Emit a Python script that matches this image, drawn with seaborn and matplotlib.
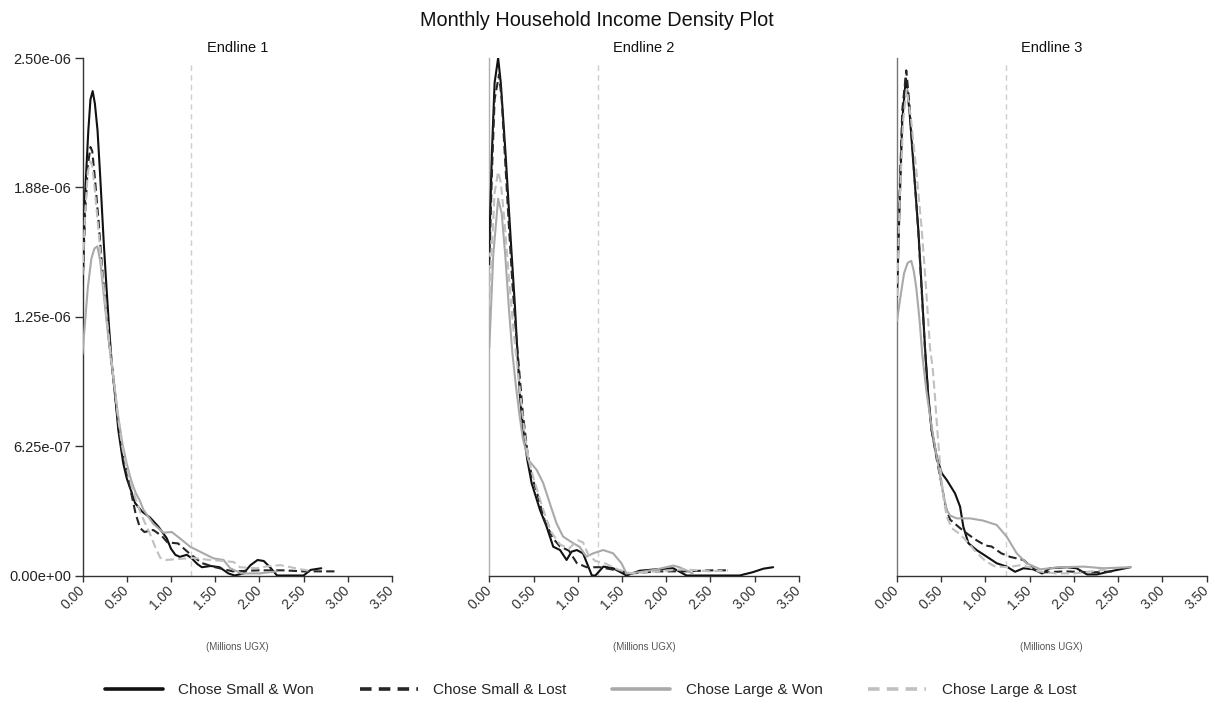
import numpy as np
import pandas as pd
import matplotlib
matplotlib.use("Agg")
import matplotlib.pyplot as plt
from matplotlib.lines import Line2D
import seaborn as sns

# ---- data: income in millions UGX, density in units of 1e-6 ----
DENSITY_UNIT = 1e-6
POVERTY_LINE = 1.23

groups = ["Chose Small & Won", "Chose Small & Lost", "Chose Large & Won", "Chose Large & Lost"]
endlines = ["Endline 1", "Endline 2", "Endline 3"]

# Endline 1
e1_small_won_x = [0.00, 0.01, 0.03, 0.066, 0.09, 0.115, 0.14, 0.17, 0.20, 0.24, 0.27, 0.30, 0.33, 0.35, 0.38, 0.405, 0.43, 0.46, 0.50, 0.557, 0.595, 0.67, 0.764, 0.858, 0.953, 1.00, 1.05, 1.10, 1.18, 1.235, 1.30, 1.35, 1.45, 1.55, 1.65, 1.72, 1.82, 1.90, 1.98, 2.05, 2.12, 2.20, 2.50, 2.58, 2.70]
e1_small_won_d = [1.42, 1.51, 1.85, 2.15, 2.30, 2.34, 2.28, 2.15, 1.93, 1.61, 1.40, 1.20, 1.03, 0.945, 0.82, 0.703, 0.63, 0.544, 0.47, 0.40, 0.35, 0.31, 0.28, 0.236, 0.18, 0.13, 0.10, 0.09, 0.10, 0.083, 0.055, 0.04, 0.046, 0.04, 0.01, 0.0, 0.01, 0.05, 0.075, 0.07, 0.04, 0.0, 0.0, 0.027, 0.035]

e1_small_lost_x = [0.00, 0.03, 0.06, 0.09, 0.11, 0.14, 0.18, 0.22, 0.26, 0.30, 0.35, 0.40, 0.45, 0.50, 0.55, 0.60, 0.65, 0.70, 0.80, 0.90, 0.96, 1.08, 1.20, 1.35, 1.50, 1.70, 2.00, 2.27, 2.50, 2.88]
e1_small_lost_d = [1.40, 1.75, 1.98, 2.07, 2.05, 1.92, 1.72, 1.50, 1.30, 1.13, 0.95, 0.75, 0.60, 0.50, 0.40, 0.30, 0.23, 0.21, 0.22, 0.19, 0.16, 0.155, 0.11, 0.06, 0.04, 0.02, 0.025, 0.025, 0.02, 0.02]

e1_large_won_x = [0.00, 0.03, 0.06, 0.10, 0.135, 0.168, 0.20, 0.232, 0.28, 0.32, 0.36, 0.40, 0.45, 0.50, 0.55, 0.60, 0.65, 0.69, 0.80, 0.915, 1.01, 1.10, 1.217, 1.33, 1.48, 1.595, 1.67, 1.80, 2.00, 2.20]
e1_large_won_d = [1.07, 1.23, 1.39, 1.53, 1.58, 1.59, 1.52, 1.39, 1.20, 1.05, 0.92, 0.78, 0.64, 0.54, 0.46, 0.40, 0.36, 0.317, 0.25, 0.207, 0.21, 0.18, 0.139, 0.115, 0.083, 0.075, 0.035, 0.01, 0.01, 0.02]

e1_large_lost_x = [0.00, 0.03, 0.06, 0.09, 0.11, 0.14, 0.18, 0.22, 0.26, 0.30, 0.35, 0.40, 0.45, 0.50, 0.55, 0.60, 0.65, 0.70, 0.76, 0.82, 0.88, 0.95, 1.10, 1.25, 1.44, 1.60, 1.71, 1.78, 1.97, 2.10, 2.24, 2.47, 2.60]
e1_large_lost_d = [1.45, 1.75, 1.95, 2.00, 1.98, 1.86, 1.67, 1.48, 1.30, 1.14, 0.96, 0.77, 0.62, 0.52, 0.44, 0.37, 0.31, 0.26, 0.205, 0.14, 0.085, 0.075, 0.08, 0.085, 0.075, 0.07, 0.065, 0.04, 0.035, 0.045, 0.05, 0.03, 0.02]

# Endline 2
e2_small_won_x = [0.00, 0.03, 0.06, 0.10, 0.13, 0.185, 0.22, 0.253, 0.29, 0.32, 0.347, 0.384, 0.43, 0.479, 0.573, 0.648, 0.723, 0.80, 0.874, 0.93, 0.99, 1.06, 1.12, 1.16, 1.20, 1.29, 1.40, 1.51, 1.55, 1.70, 1.89, 2.08, 2.23, 2.83, 2.98, 3.10, 3.21]
e2_small_won_d = [1.60, 2.05, 2.38, 2.50, 2.38, 2.03, 1.78, 1.55, 1.30, 1.06, 0.864, 0.703, 0.558, 0.446, 0.317, 0.236, 0.139, 0.123, 0.075, 0.115, 0.123, 0.107, 0.043, 0.0, 0.0, 0.043, 0.035, 0.01, 0.0, 0.023, 0.03, 0.035, 0.0, 0.0, 0.016, 0.033, 0.04]

e2_small_lost_x = [0.00, 0.03, 0.06, 0.11, 0.14, 0.18, 0.22, 0.26, 0.30, 0.34, 0.38, 0.43, 0.48, 0.54, 0.57, 0.63, 0.72, 0.80, 0.90, 0.99, 1.10, 1.25, 1.44, 1.60, 1.90, 2.20, 2.53, 2.69]
e2_small_lost_d = [1.50, 1.95, 2.30, 2.42, 2.30, 2.00, 1.70, 1.42, 1.18, 0.98, 0.78, 0.60, 0.48, 0.40, 0.35, 0.26, 0.18, 0.14, 0.12, 0.06, 0.04, 0.04, 0.025, 0.01, 0.02, 0.02, 0.025, 0.025]

e2_large_won_x = [0.00, 0.045, 0.10, 0.14, 0.18, 0.22, 0.26, 0.30, 0.34, 0.38, 0.442, 0.536, 0.61, 0.684, 0.76, 0.834, 0.949, 1.02, 1.098, 1.175, 1.288, 1.40, 1.495, 1.55, 1.70, 1.90, 2.08, 2.15, 2.30]
e2_large_won_d = [1.10, 1.55, 1.82, 1.75, 1.55, 1.30, 1.08, 0.92, 0.78, 0.66, 0.558, 0.51, 0.446, 0.349, 0.252, 0.188, 0.156, 0.139, 0.091, 0.107, 0.123, 0.107, 0.059, 0.01, 0.016, 0.03, 0.048, 0.04, 0.01]

e2_large_lost_x = [0.00, 0.03, 0.06, 0.10, 0.13, 0.17, 0.22, 0.27, 0.32, 0.36, 0.40, 0.45, 0.50, 0.55, 0.60, 0.65, 0.70, 0.80, 0.90, 1.00, 1.06, 1.12, 1.20, 1.30, 1.45, 1.60, 1.90, 2.20, 2.50, 2.70]
e2_large_lost_d = [1.30, 1.60, 1.85, 1.95, 1.90, 1.72, 1.45, 1.20, 1.00, 0.84, 0.68, 0.55, 0.47, 0.40, 0.33, 0.27, 0.21, 0.15, 0.13, 0.17, 0.16, 0.10, 0.07, 0.06, 0.03, 0.01, 0.02, 0.03, 0.02, 0.025]

# Endline 3
e3_small_won_x = [0.00, 0.03, 0.06, 0.10, 0.14, 0.185, 0.241, 0.28, 0.317, 0.354, 0.392, 0.449, 0.506, 0.562, 0.656, 0.713, 0.75, 0.807, 0.90, 1.015, 1.128, 1.24, 1.335, 1.43, 1.54, 1.64, 1.73, 1.92, 2.03, 2.15, 2.26, 2.41, 2.64]
e3_small_won_d = [1.35, 1.80, 2.20, 2.40, 2.25, 1.99, 1.67, 1.38, 1.10, 0.864, 0.703, 0.574, 0.494, 0.462, 0.397, 0.333, 0.236, 0.156, 0.123, 0.091, 0.059, 0.043, 0.018, 0.035, 0.03, 0.01, 0.035, 0.04, 0.035, 0.005, 0.005, 0.02, 0.04]

e3_small_lost_x = [0.00, 0.03, 0.06, 0.105, 0.14, 0.185, 0.241, 0.28, 0.317, 0.354, 0.392, 0.45, 0.50, 0.55, 0.60, 0.71, 0.80, 0.90, 1.00, 1.07, 1.18, 1.28, 1.43, 1.55, 1.65, 1.90, 2.20, 2.45]
e3_small_lost_d = [1.40, 1.85, 2.25, 2.44, 2.28, 2.00, 1.66, 1.37, 1.09, 0.86, 0.70, 0.56, 0.45, 0.33, 0.27, 0.23, 0.20, 0.17, 0.145, 0.14, 0.107, 0.09, 0.075, 0.03, 0.015, 0.02, 0.015, 0.02]

e3_large_won_x = [0.00, 0.04, 0.08, 0.12, 0.162, 0.19, 0.218, 0.256, 0.286, 0.33, 0.38, 0.43, 0.48, 0.53, 0.562, 0.60, 0.675, 0.826, 0.976, 1.128, 1.24, 1.354, 1.467, 1.62, 1.84, 2.11, 2.33, 2.64]
e3_large_won_d = [1.23, 1.35, 1.46, 1.51, 1.52, 1.47, 1.39, 1.23, 1.066, 0.90, 0.75, 0.62, 0.50, 0.38, 0.317, 0.29, 0.276, 0.276, 0.265, 0.244, 0.188, 0.107, 0.059, 0.03, 0.04, 0.043, 0.035, 0.04]

e3_large_lost_x = [0.00, 0.03, 0.07, 0.11, 0.16, 0.22, 0.28, 0.33, 0.373, 0.404, 0.43, 0.456, 0.486, 0.524, 0.562, 0.62, 0.713, 0.80, 0.90, 1.00, 1.10, 1.25, 1.40, 1.50, 1.60, 1.80, 2.00, 2.20, 2.40]
e3_large_lost_d = [1.35, 1.80, 2.20, 2.35, 2.20, 1.95, 1.67, 1.38, 1.10, 1.00, 0.86, 0.70, 0.54, 0.38, 0.284, 0.228, 0.20, 0.16, 0.11, 0.07, 0.045, 0.04, 0.05, 0.04, 0.02, 0.01, 0.01, 0.02, 0.03]

x_ticks = [0.0, 0.5, 1.0, 1.5, 2.0, 2.5, 3.0, 3.5]
y_ticks = [0.0, 6.25e-07, 1.25e-06, 1.875e-06, 2.5e-06]
y_tick_labels = ["0.00e+00", "6.25e-07", "1.25e-06", "1.88e-06", "2.50e-06"]

curves = {
    ("Endline 1", groups[0]): (e1_small_won_x, e1_small_won_d),
    ("Endline 1", groups[1]): (e1_small_lost_x, e1_small_lost_d),
    ("Endline 1", groups[2]): (e1_large_won_x, e1_large_won_d),
    ("Endline 1", groups[3]): (e1_large_lost_x, e1_large_lost_d),
    ("Endline 2", groups[0]): (e2_small_won_x, e2_small_won_d),
    ("Endline 2", groups[1]): (e2_small_lost_x, e2_small_lost_d),
    ("Endline 2", groups[2]): (e2_large_won_x, e2_large_won_d),
    ("Endline 2", groups[3]): (e2_large_lost_x, e2_large_lost_d),
    ("Endline 3", groups[0]): (e3_small_won_x, e3_small_won_d),
    ("Endline 3", groups[1]): (e3_small_lost_x, e3_small_lost_d),
    ("Endline 3", groups[2]): (e3_large_won_x, e3_large_won_d),
    ("Endline 3", groups[3]): (e3_large_lost_x, e3_large_lost_d),
}

rows = []
for (endline, group), (xs, ds) in curves.items():
    for i, (x, d) in enumerate(zip(xs, ds)):
        rows.append({"endline": endline, "group": group, "order": i,
                     "income": x, "density": d * DENSITY_UNIT})
df = pd.DataFrame(rows)

# ---- styling ----
sns.set_style("white")
plt.rcParams["font.family"] = ["Liberation Sans", "DejaVu Sans"]

palette = {groups[0]: "#111111", groups[1]: "#262626",
           groups[2]: "#a9a9a9", groups[3]: "#c0c0c0"}
dashes = {groups[0]: "", groups[1]: (4, 2), groups[2]: "", groups[3]: (4, 2)}
spine_colors = ["#333333", "#b0b0b0", "#777777"]

fig = plt.figure(figsize=(12.15, 7.02), dpi=100)
W, H = 1215, 702
lefts = [82.5, 489.3, 897.0]
bottom_px, top_px = 575.5, 58.0
width_px = 309.5

for k, endline in enumerate(endlines):
    ax = fig.add_axes([lefts[k] / W, (H - bottom_px) / H,
                       width_px / W, (bottom_px - top_px) / H])
    sub = df[df["endline"] == endline]
    ax.axvline(POVERTY_LINE, ymin=0, ymax=0.99, color="#cfcfcf",
               lw=1.0, ls=(0, (4, 3)), zorder=1)
    sns.lineplot(data=sub, x="income", y="density", hue="group", style="group",
                 hue_order=groups, style_order=groups, palette=palette,
                 dashes=dashes, units="group", estimator=None, sort=False,
                 lw=1.5, legend=False, ax=ax, zorder=3)
    ax.set_xlim(0, 3.5)
    ax.set_ylim(0, 2.5e-06)
    ax.set_xlabel("")
    ax.set_ylabel("")
    for side in ("top", "right"):
        ax.spines[side].set_visible(False)
    ax.spines["bottom"].set_color("#333333")
    ax.spines["left"].set_color(spine_colors[k])
    ax.spines["bottom"].set_linewidth(1.0)
    ax.spines["left"].set_linewidth(1.0)

    ax.set_xticks(x_ticks)
    ax.set_xticklabels([f"{v:.2f}" for v in x_ticks], rotation=45,
                       ha="right", va="center", rotation_mode="anchor",
                       fontsize=10, color="#333333")
    ax.tick_params(axis="x", direction="out", length=4, width=1,
                   color="#333333", pad=5, bottom=True)
    if k == 0:
        ax.set_yticks(y_ticks)
        ax.set_yticklabels(y_tick_labels, fontsize=10.5, color="#222222")
        ax.tick_params(axis="y", direction="out", length=6, width=1,
                       color="#333333", pad=2, left=True)
    else:
        ax.set_yticks([])

    ax.set_title(endline, fontsize=10.5, pad=4, color="#111111")
    ax.text(0.5, -0.138, "(Millions UGX)", transform=ax.transAxes,
            ha="center", va="center", fontsize=7, color="#555555")

fig.text(596.5 / W, 1 - 20 / H, "Monthly Household Income Density Plot",
         ha="center", va="center", fontsize=14.3, color="#111111")

handles = [Line2D([0], [0], color=palette[g], lw=2.6,
                  ls="-" if dashes[g] == "" else (0, (3.2, 2.0)))
           for g in groups]
fig.legend(handles, groups, loc="center", bbox_to_anchor=(590.5 / W, 1 - 690 / H),
           ncol=4, frameon=False, fontsize=11, handlelength=3.8,
           handletextpad=1.0, columnspacing=3.0)

fig.savefig("out.png", dpi=100)
